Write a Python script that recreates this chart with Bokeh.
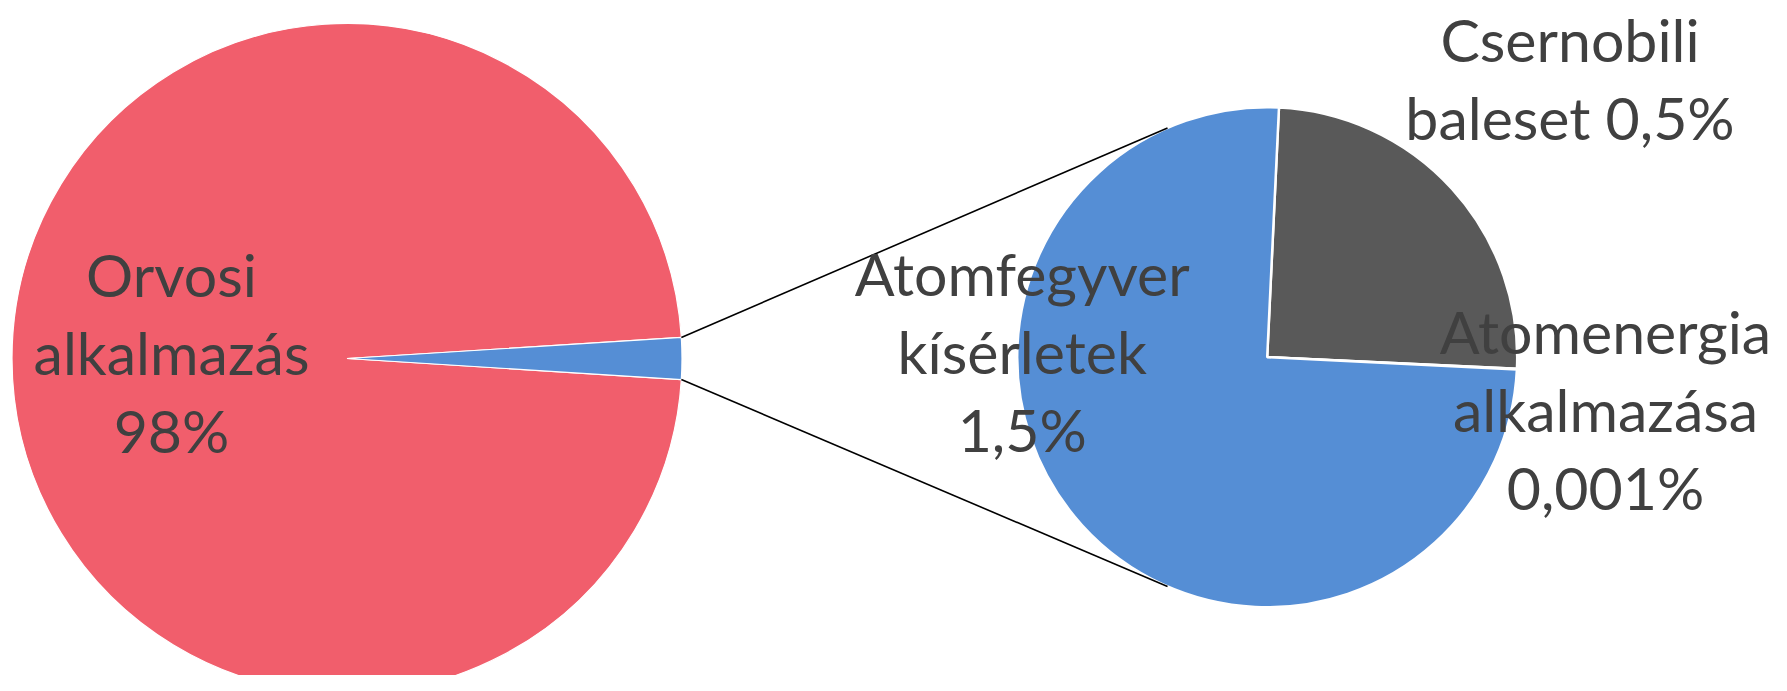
import math
from bokeh.plotting import figure
from bokeh.models import Range1d
from bokeh.embed import file_html
from bokeh.resources import INLINE
from bokeh.core.properties import value

# ---- data ----
main_categories = ["Orvosi alkalmazás", "Egyéb"]
main_value_orvosi = 98.0
sub_categories = ["Csernobili baleset", "Atomenergia alkalmazása", "Atomfegyver kísérletek"]
sub_values = [0.5, 0.001, 1.5]
main_label = "Orvosi\nalkalmazás\n98%"
sub_labels = ["Csernobili\nbaleset 0,5%", "Atomenergia\nalkalmazása\n0,001%", "Atomfegyver\nkísérletek\n1,5%"]

# ---- style / layout ----
W, H = 1771, 675
RED = "#F15E6C"
BLUE = "#558ED5"
GRAY = "#595959"
TEXT = "#404040"
sub_colors = [GRAY, "#FFFFFF", BLUE]
TEXT_FIX = 23.0  # baseline correction

def Y(sy):
    return H - sy

p = figure(width=W, height=H, output_backend="svg", toolbar_location=None,
           x_range=Range1d(0, W), y_range=Range1d(0, H), min_border=0)
p.axis.visible = False
p.grid.visible = False
p.outline_line_color = None
p.background_fill_color = "white"
p.border_fill_color = "white"

# left pie
cxL, cyL, RL = 346.5, Y(358.0), 335.0
other = sum(sub_values)
total = main_value_orvosi + other
half = math.pi * other / total
p.wedge(x=[cxL, cxL], y=[cyL, cyL], radius=RL,
        start_angle=[half, -half], end_angle=[2 * math.pi - half, half],
        fill_color=[RED, BLUE], line_color="white", line_width=1.2)

# right pie (clockwise from start)
cxR, cyR, RR = 1266.7, Y(356.7), 250.0
s = math.radians(87.3)
sub_total = sum(sub_values)
starts, ends = [], []
cum = 0.0
for v in sub_values:
    a0 = s - 2 * math.pi * cum / sub_total
    cum += v
    a1 = s - 2 * math.pi * cum / sub_total
    starts.append(a1)
    ends.append(a0)
p.wedge(x=[cxR] * 3, y=[cyR] * 3, radius=RR, start_angle=starts, end_angle=ends,
        fill_color=sub_colors, line_color="white", line_width=2.5)

# connectors
conn = math.radians(113.5)
for sgn in (1, -1):
    x0 = cxL + RL * math.cos(half)
    y0 = cyL + sgn * RL * math.sin(half)
    x1 = cxR + RR * math.cos(conn)
    y1 = cyR + sgn * RR * math.sin(conn)
    p.line([x0, x1], [y0, y1], line_color="black", line_width=1.6)

# labels
LS = 78.0
FS = "59px"
def draw_label(txt, cx, mid_baseline):
    lines = txt.split("\n")
    n = len(lines)
    xs, ys = [], []
    for i, ln in enumerate(lines):
        xs.append(cx)
        ys.append(Y(mid_baseline - TEXT_FIX + (i - (n - 1) / 2) * LS))
    p.text(x=xs, y=ys, text=lines, text_align="center", text_baseline="alphabetic",
           text_font=value("Lato"), text_font_size=FS, text_color=TEXT)

draw_label(main_label, 171, 375)
draw_label(sub_labels[0], 1569.5, 101)
draw_label(sub_labels[1], 1605, 432)
draw_label(sub_labels[2], 1021.7, 373.5)

open("out.html", "w").write(file_html(p, INLINE))
